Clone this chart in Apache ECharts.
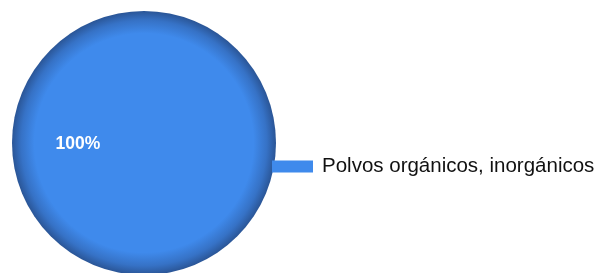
<!DOCTYPE html>
<html>
<head>
<meta charset="utf-8">
<script src="https://cdn.jsdelivr.net/npm/echarts@6/dist/echarts.min.js"></script>
<style>
html, body { margin: 0; padding: 0; background: #fff; }
#chart { width: 600px; height: 273px; }
</style>
</head>
<body>
<div id="chart"></div>
<script>
// datos del grafico
var categorias = ['Polvos orgánicos, inorgánicos'];
var valores = [100];

var chart = echarts.init(document.getElementById('chart'));
var option = {
    animation: false,
    legend: {
        orient: 'vertical',
        left: 267,
        top: 151,
        itemWidth: 41,
        itemHeight: 12,
        itemGap: 10,
        icon: 'rect',
        itemStyle: { color: '#3f8aec' },
        textStyle: {
            fontFamily: 'Liberation Sans, Arial',
            fontSize: 20.5,
            color: '#111',
            padding: [0, 0, 0, 4]
        },
        data: categorias
    },
    series: [
        {
            name: 'distribucion',
            type: 'pie',
            radius: [0, 132],
            center: [144, 143],
            startAngle: 0,
            label: {
                position: 'inside',
                formatter: '{d}%',
                color: '#fff',
                fontFamily: 'Liberation Sans, Arial',
                fontWeight: 'bold',
                fontSize: 17.5,
                offset: [3, 1]
            },
            labelLine: { show: false },
            itemStyle: {
                color: {
                    type: 'radial',
                    x: 0.5, y: 0.5, r: 0.5,
                    colorStops: [
                        {offset: 0, color: '#3f8aec'},
                        {offset: 0.83, color: '#3f8aec'},
                        {offset: 0.93, color: '#3672c6'},
                        {offset: 1, color: '#2a5596'}
                    ]
                }
            },
            emphasis: { disabled: true },
            data: categorias.map(function (c, i) {
                return {name: c, value: valores[i]};
            })
        }
    ]
};
chart.setOption(option);
</script>
</body>
</html>
